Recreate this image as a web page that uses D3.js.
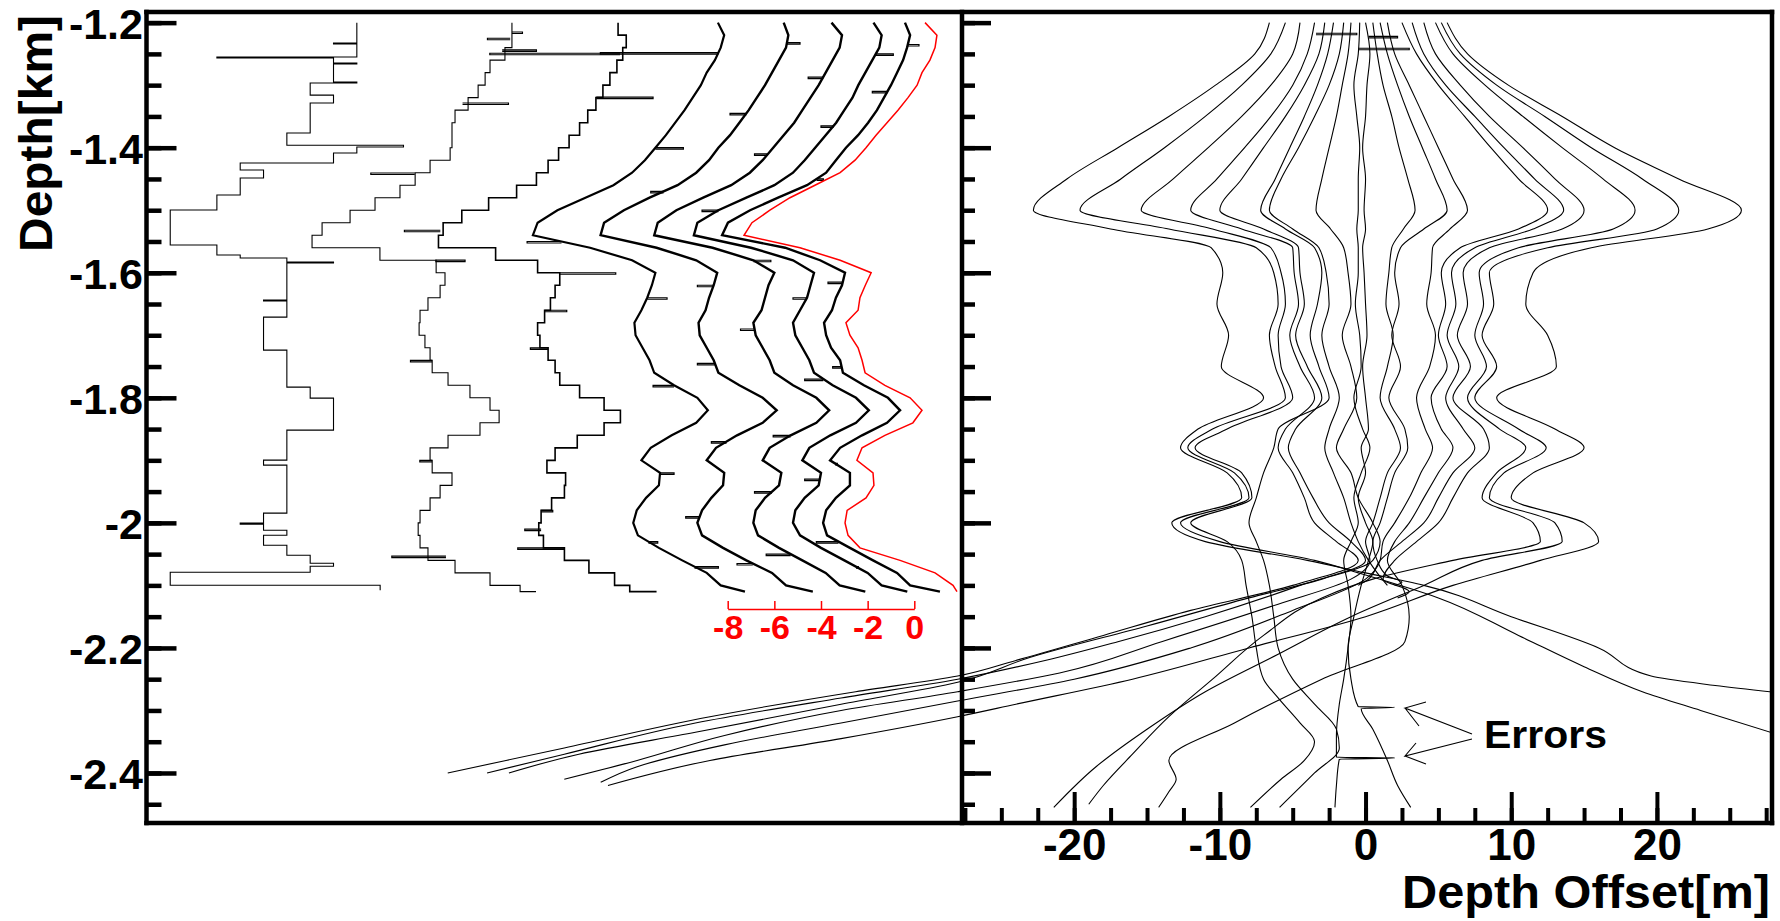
<!DOCTYPE html>
<html><head><meta charset="utf-8">
<script src="https://cdn.jsdelivr.net/npm/d3@7/dist/d3.min.js"></script>
<style>
html,body{margin:0;padding:0;background:#fff;}
svg{display:block;font-family:"Liberation Sans",Arial,Helvetica,sans-serif;font-weight:bold;}
</style></head><body>
<svg id="chart" width="1780" height="921"></svg>
<script>
// ---------------- DATA ----------------
const yMajor = [-1.2,-1.4,-1.6,-1.8,-2.0,-2.2,-2.4];
const yLabels = ["-1.2","-1.4","-1.6","-1.8","-2","-2.2","-2.4"];
const xMajor = [-20,-10,0,10,20];
const xLabels = ["-20","-10","0","10","20"];
const redTicks = [-8,-6,-4,-2,0];
const redLabels = ["-8","-6","-4","-2","0"];

// Left panel: profile grid depths (km)
const leftDepth = [-1.20,-1.22,-1.24,-1.26,-1.28,-1.30,-1.32,-1.34,-1.36,-1.38,-1.40,-1.42,-1.44,-1.46,-1.48,-1.50,-1.52,-1.54,-1.56,-1.58,-1.60,-1.62,-1.64,-1.66,-1.68,-1.70,-1.72,-1.74,-1.76,-1.78,-1.80,-1.82,-1.84,-1.86,-1.88,-1.90,-1.92,-1.94,-1.96,-1.98,-2.00,-2.02,-2.04,-2.06,-2.08,-2.10,-2.11];

// horizontal placement of each trace (red-axis units)
const traceShift = [-24.9,-18.0,-13.1,-9.0,-6.3,-3.95,-2.2,-0.9,0];

// trace 1 (coarse binned, step)
const c1Depth = [-1.200,-1.2325,-1.234,-1.255,-1.2565,-1.2645,-1.266,-1.295,-1.2965,-1.316,-1.3285,-1.3765,-1.396,-1.399,-1.4085,-1.4245,-1.4357,-1.4485,-1.4757,-1.4997,-1.5557,-1.5717,-1.5765,-1.5829,-1.5845,-1.6437,-1.6453,-1.6709,-1.7237,-1.7829,-1.8005,-1.8517,-1.8997,-1.9077,-1.9845,-2.0005,-2.0021,-2.0117,-2.0197,-2.0357,-2.0517,-2.0645,-2.0693,-2.0789,-2.0997,-2.1077];
const c1Val = [1,0,1,-5,0,1,0,1,-1,0,-1,-2,3,1,0,-4,-3,-4,-5,-7,-5,-4,-2,0,-2,-3,-2,-3,-2,-1,0,-2,-3,-2,-3,-4,-3,-2,-3,-2,-1,0,-1,-7,2,2];

const c2Val = [0.75,0.75,0.45,-0.19,-0.40,-0.70,-1.13,-1.69,-1.82,-1.82,-1.90,-2.76,-3.40,-4.05,-5.12,-6.19,-7.39,-7.82,-4.91,-2.50,-2.12,-2.33,-2.85,-3.19,-3.23,-2.98,-2.76,-2.67,-1.99,-1.05,-0.19,0.20,-0.62,-1.99,-2.76,-2.67,-1.82,-2.33,-2.76,-3.19,-3.27,-3.19,-2.85,-1.69,-0.19,1.10,1.78];
const c3Val = [0.40,0.75,0.60,0.35,0.05,-0.25,-0.55,-0.90,-1.25,-1.70,-2.15,-2.60,-3.10,-3.95,-5.15,-6.30,-7.10,-7.30,-4.85,-3.05,-2.10,-2.30,-2.50,-2.75,-3.05,-2.95,-2.60,-2.30,-2.10,-1.25,-0.20,0.50,-0.20,-1.35,-2.30,-2.65,-1.85,-1.90,-2.45,-2.90,-3.00,-2.80,-1.90,-0.85,0.25,0.90,2.05];
const c4Val = [0.58,0.85,0.70,0.45,0.10,-0.15,-0.50,-0.85,-1.25,-1.65,-2.10,-2.55,-3.10,-3.90,-5.10,-6.30,-7.15,-7.35,-4.90,-3.10,-2.10,-2.25,-2.45,-2.70,-3.00,-2.95,-2.65,-2.35,-2.15,-1.30,-0.30,0.15,-0.35,-1.40,-2.30,-2.70,-1.90,-1.95,-2.50,-2.90,-3.05,-2.85,-1.95,-0.95,0.10,0.70,1.74];
const c5Val = [0.70,0.90,0.80,0.50,0.20,-0.10,-0.45,-0.80,-1.20,-1.60,-2.10,-2.50,-3.05,-3.85,-5.05,-6.15,-7.00,-7.15,-4.75,-3.05,-2.15,-2.30,-2.50,-2.65,-2.95,-2.90,-2.60,-2.30,-2.10,-1.20,-0.20,0.40,-0.20,-1.30,-2.20,-2.60,-1.85,-1.90,-2.40,-2.80,-3.00,-2.80,-1.90,-0.90,0.20,0.80,1.95];
const c6Val = [0.40,0.85,0.75,0.45,0.15,-0.15,-0.50,-0.85,-1.20,-1.65,-2.10,-2.55,-3.10,-3.90,-5.10,-6.25,-7.05,-7.20,-4.70,-2.95,-2.05,-2.30,-2.45,-2.60,-2.95,-2.85,-2.55,-2.25,-2.05,-1.25,-0.25,0.30,-0.25,-1.35,-2.25,-2.55,-1.75,-1.85,-2.45,-2.85,-2.95,-2.75,-1.85,-0.85,0.15,0.75,1.85];
const c7Val = [0.45,0.80,0.70,0.40,0.10,-0.20,-0.45,-0.80,-1.15,-1.60,-2.05,-2.50,-3.00,-3.80,-5.00,-6.20,-7.10,-7.25,-4.80,-3.00,-2.10,-2.25,-2.40,-2.70,-3.00,-2.90,-2.60,-2.30,-2.10,-1.30,-0.30,0.25,-0.30,-1.40,-2.30,-2.60,-1.80,-1.90,-2.50,-2.90,-3.00,-2.70,-1.80,-0.80,0.20,0.80,1.90];
const c8Val = [0.50,0.72,0.59,0.42,0.16,-0.10,-0.40,-0.70,-1.08,-1.51,-2.03,-2.46,-2.88,-3.70,-4.94,-6.14,-7.09,-7.34,-4.64,-3.14,-2.07,-2.20,-2.46,-2.63,-2.97,-2.88,-2.67,-2.28,-2.16,-1.26,-0.23,0.29,-0.27,-1.34,-2.28,-2.71,-1.86,-1.86,-2.46,-2.88,-3.01,-2.84,-1.86,-0.87,0.16,0.72,2.0];
const redVal = [0.46,0.97,0.89,0.67,0.33,0.12,-0.27,-0.70,-1.17,-1.64,-2.07,-2.54,-3.18,-4.26,-5.33,-6.19,-6.96,-7.30,-4.90,-3.18,-1.85,-2.10,-2.33,-2.41,-2.93,-2.76,-2.41,-2.24,-2.11,-1.26,-0.18,0.33,-0.06,-1.26,-2.24,-2.46,-1.77,-1.73,-2.07,-2.88,-2.97,-2.84,-2.33,-0.61,0.89,1.66,1.83];

// isolated spikes on the traces: [depth, value]
const spikesC2 = [[-1.215,1.2],[-1.225,-0.3],[-1.2437,1.8],[-1.3285,0.6],[-1.4405,-5.3],[-1.5797,-1.26],[-1.74,-3.6],[-1.90,-3.2],[-2.0533,-4.4]];
const spikesC3 = [[-1.249,-5.1],[-1.319,1.9],[-1.532,-8.76],[-1.60,0.3],[-1.66,-1.8],[-1.72,-3.36],[-1.98,-2.4],[-2.01,-3.6],[-2.04,-3.9]];
const spikesC4 = [[-1.248,-4.46],[-1.40,-0.9],[-1.55,-7.6],[-1.64,-1.6],[-1.78,-2.2],[-1.92,-1.3],[-2.03,-2.0],[-2.07,0.6]];
const spikesC5 = [[-1.232,1.4],[-1.345,-1.6],[-1.47,-5.0],[-1.62,-3.0],[-1.745,-3.0],[-1.87,-2.4],[-1.99,-3.5],[-2.065,-1.3]];
const spikesC6 = [[-1.287,-0.6],[-1.41,-2.9],[-1.58,-2.2],[-1.69,-3.5],[-1.86,-2.1],[-1.95,-2.9],[-2.05,-2.4]];
const spikesC7 = [[-1.25,1.3],[-1.365,-1.8],[-1.50,-6.9],[-1.64,-3.0],[-1.77,-2.5],[-1.93,-2.5],[-2.07,-0.2]];
const spikesC8 = [[-1.235,1.1],[-1.31,-0.9],[-1.45,-3.0],[-1.615,-2.8],[-1.75,-2.6],[-1.905,-2.4],[-2.03,-3.3]];

// Right panel: depth offset curves (m); upper part on common depths, then individual tails [m, depth]
const rUpperDepth = [-1.20,-1.25,-1.30,-1.35,-1.40,-1.45,-1.50,-1.53,-1.56,-1.60,-1.65,-1.70,-1.75,-1.80,-1.85,-1.88,-1.92,-1.96,-2.00,-2.03,-2.06];
const rUpper = [
 [-6.6,-7.6,-10.3,-13.5,-17.0,-20.5,-22.8,-17.5,-10.6,-9.8,-10.2,-9.4,-9.9,-7.0,-11.5,-12.7,-9.5,-8.5,-13.3,-11.0,-4.0],
 [-5.5,-6.5,-8.5,-11.0,-13.8,-16.8,-19.6,-13.5,-7.5,-6.3,-6.0,-6.6,-6.2,-5.5,-10.5,-12.2,-9.0,-8.0,-12.7,-10.0,-3.5],
 [-4.5,-5.0,-6.5,-8.5,-10.8,-13.2,-15.4,-10.5,-6.5,-5.8,-5.5,-6.0,-5.8,-5.0,-9.5,-11.7,-8.5,-7.8,-12.0,-9.5,-8.5],
 [-3.5,-4.0,-5.0,-6.5,-8.3,-10.2,-12.0,-8.5,-5.0,-4.9,-4.6,-5.2,-4.5,-3.5,-5.5,-6.0,-5.0,-4.2,-3.5,-2.0,-0.5],
 [-2.8,-3.2,-4.2,-5.5,-7.0,-8.5,-10.0,-7.0,-4.6,-4.5,-4.2,-4.8,-4.0,-3.0,-4.8,-5.3,-4.5,-3.6,-2.5,-1.0,0.0],
 [-2.2,-2.6,-3.3,-4.2,-5.2,-6.2,-7.2,-5.5,-3.5,-3.0,-3.3,-3.8,-3.2,-2.5,-6.0,-6.3,-7.0,-7.5,-8.0,-7.5,-7.0],
 [-1.5,-1.8,-2.5,-3.5,-4.6,-5.8,-6.6,-5.0,-3.2,-2.7,-2.5,-3.0,-2.5,-1.8,-2.5,-2.8,-2.2,-1.5,-1.0,-0.5,0.2],
 [-1.0,-1.2,-1.6,-2.0,-2.5,-3.0,-3.4,-2.4,-1.5,-1.2,-1.0,-1.6,-1.0,-0.6,-1.5,-2.0,-1.0,-0.5,0.5,1.0,0.5],
 [-0.4,-0.5,-0.8,-0.6,-0.4,-0.5,-0.5,-0.6,-0.5,-0.5,-0.7,-0.4,-0.3,-0.8,-0.2,0.3,-0.3,-0.8,-0.5,-1.0,-1.5],
 [0.0,0.3,0.1,0.0,-0.2,0.0,-0.1,0.0,-0.2,-0.1,0.0,0.1,-0.2,0.0,0.2,-0.3,0.0,-0.5,0.0,0.5,0.2],
 [0.5,0.8,1.2,1.8,2.3,2.9,3.4,2.6,1.8,1.6,1.4,1.9,1.5,1.0,2.0,2.4,1.5,1.0,0.5,0.0,0.3],
 [1.0,1.5,2.2,3.0,3.9,4.8,5.6,4.0,2.4,2.0,2.3,1.8,2.4,1.6,2.7,2.9,2.0,1.5,1.0,0.5,0.8],
 [1.5,2.0,3.0,4.0,5.0,6.0,7.0,5.8,4.6,4.5,4.2,4.8,4.4,3.5,4.1,4.6,3.8,3.0,2.0,1.2,1.0],
 [2.5,3.5,5.0,6.8,8.6,10.5,12.5,10.5,6.5,5.2,5.5,5.0,5.6,4.5,5.2,6.0,5.0,4.0,3.0,2.0,1.5],
 [3.2,4.0,5.5,7.5,9.5,11.6,13.6,11.5,7.5,5.9,6.2,5.6,6.4,5.5,6.7,7.5,6.0,5.0,4.0,2.5,1.0],
 [4.0,4.8,6.5,8.5,10.8,13.0,15.0,13.5,8.5,6.7,7.0,6.3,7.2,6.0,8.1,8.5,7.0,6.0,5.0,3.5,2.0],
 [4.8,6.0,8.2,10.8,13.5,16.3,18.5,17.0,10.5,7.8,8.1,7.5,8.3,7.0,9.2,11.0,9.0,8.0,11.5,12.0,6.0],
 [5.2,6.5,9.0,12.3,15.5,19.0,21.5,20.0,12.5,8.5,8.8,8.0,9.0,7.5,10.5,12.4,9.5,8.5,13.0,13.5,8.0],
 [5.6,7.0,9.8,13.5,17.1,21.5,25.8,23.5,15.5,11.5,11.0,12.5,13.1,9.0,13.0,15.0,11.5,10.0,15.0,16.0,12.0]
];
const rTail = [
 [[0,-2.08],[4,-2.10],[10,-2.15],[16,-2.20],[19.6,-2.245],[24,-2.26],[28.5,-2.272]],
 [[-0.5,-2.08],[5,-2.12],[10.5,-2.18],[15,-2.23],[19,-2.27],[23,-2.30],[28.5,-2.34]],
 [[-8.2,-2.10],[-7.8,-2.15],[-7.5,-2.20],[-7.0,-2.25],[-6.0,-2.28],[-4.5,-2.32],[-3.5,-2.35],[-4.2,-2.38],[-5.8,-2.41],[-7.9,-2.455]],
 [[-5,-2.10],[-12,-2.14],[-18,-2.18],[-24,-2.22],[-28,-2.245],[-35,-2.27],[-45,-2.31],[-55,-2.36],[-63,-2.40]],
 [[-4.5,-2.10],[-11,-2.15],[-17,-2.19],[-22,-2.22],[-28,-2.25],[-36,-2.28],[-46,-2.32],[-55,-2.37],[-60.3,-2.40]],
 [[-6.6,-2.10],[-6.3,-2.15],[-6.0,-2.20],[-5.0,-2.25],[-3.5,-2.29],[-2.0,-2.33],[-1.8,-2.36],[-3.5,-2.40],[-5.9,-2.455]],
 [[0.8,-2.08],[1.5,-2.10]],
 [[-3,-2.09],[-8,-2.12],[-15,-2.165],[-23,-2.215],[-28,-2.255],[-36,-2.29],[-46,-2.335],[-54,-2.37],[-58.8,-2.40]],
 [[-1.2,-2.10],[-1.0,-2.15],[-1.2,-2.20],[-1.5,-2.25],[-1.8,-2.29],[-2.0,-2.34],[-2.0,-2.375],[2.0,-2.376],[-1.8,-2.378],[-2.0,-2.42],[-2.1,-2.455]],
 [[-0.3,-2.10],[-0.8,-2.15],[-1.2,-2.20],[-1.0,-2.25],[-0.5,-2.294],[2.0,-2.295],[-0.3,-2.297],[0.5,-2.33],[1.5,-2.38],[2.2,-2.42],[3.1,-2.455]],
 [[-1,-2.09],[-6,-2.13],[-14,-2.19],[-21,-2.24],[-28,-2.27],[-36,-2.30],[-44,-2.34],[-50,-2.38],[-55,-2.41]],
 [[1.5,-2.085],[2.5,-2.095],[2.0,-2.10]],
 [[0,-2.09],[-5,-2.14],[-12,-2.20],[-20,-2.25],[-28,-2.285],[-36,-2.32],[-44,-2.355],[-50,-2.39],[-52.5,-2.415]],
 [[2.5,-2.10],[3.0,-2.15],[2.7,-2.19],[-3.0,-2.25],[-9.0,-2.32],[-13.5,-2.38],[-13.0,-2.41],[-13.5,-2.43],[-14.2,-2.455]],
 [[0.2,-2.09],[-0.5,-2.10]],
 [[1.2,-2.09],[3.0,-2.11],[2.2,-2.12]],
 [[0.5,-2.09],[-3,-2.12],[-7,-2.18],[-10.5,-2.25],[-13.5,-2.31],[-16,-2.37],[-18,-2.42],[-19,-2.45]],
 [[4,-2.10],[-1,-2.15],[-6,-2.21],[-11,-2.27],[-15,-2.33],[-18.5,-2.39],[-21.4,-2.455]],
 [[6,-2.10],[0,-2.15],[-8,-2.20],[-16,-2.25],[-24,-2.29],[-28,-2.31],[-36,-2.345],[-45,-2.38],[-52,-2.42]]
];
// short horizontal glitches near the top of the right panel: [depth, from m, to m]
const rTopGlitch = [[-1.217,-3.4,-0.6],[-1.241,-0.5,3.0],[-1.222,0.2,2.2]];

// ---------------- DRAWING ----------------
const svg = d3.select("#chart");
const FONT = '"Liberation Sans", Arial, Helvetica, sans-serif';
const y = d3.scaleLinear().domain([-1.183, -2.48]).range([12, 823]);
const xL = d3.scaleLinear().domain([-8, 0]).range([727.7, 914.3]);
const xR = d3.scaleLinear().domain([-27.7, 27.9]).range([962, 1772]);

svg.append("rect").attr("width",1780).attr("height",921).attr("fill","#fff");
svg.append("defs").append("clipPath").attr("id","plotClip")
  .append("rect").attr("x",148).attr("y",12).attr("width",1624).attr("height",811);
const gPlot = svg.append("g").attr("clip-path","url(#plotClip)");

const traces = [
  {vals:c2Val, curve:d3.curveStepBefore, w:1.1, color:"#000", sp:spikesC2},
  {vals:c3Val, curve:d3.curveStepBefore, w:1.6, color:"#000", sp:spikesC3},
  {vals:c4Val, curve:d3.curveLinear, w:2.2, color:"#000", sp:spikesC4},
  {vals:c5Val, curve:d3.curveLinear, w:2.4, color:"#000", sp:spikesC5},
  {vals:c6Val, curve:d3.curveLinear, w:2.4, color:"#000", sp:spikesC6},
  {vals:c7Val, curve:d3.curveLinear, w:2.4, color:"#000", sp:spikesC7},
  {vals:c8Val, curve:d3.curveLinear, w:2.4, color:"#000", sp:spikesC8},
  {vals:redVal, curve:d3.curveLinear, w:1.5, color:"#ff0000", sp:[]}
];
{
  const s = traceShift[0];
  const pts = c1Depth.map((d,i)=>[c1Val[i], d]);
  gPlot.append("path").attr("d", d3.line().curve(d3.curveStepBefore).x(p=>xL(s+p[0])).y(p=>y(p[1]))(pts))
    .attr("fill","none").attr("stroke","#000").attr("stroke-width",1.1);
}
function valueAt(vals, d){
  for(let i=0;i<leftDepth.length-1;i++){
    if(d<=leftDepth[i] && d>=leftDepth[i+1]){
      const f=(leftDepth[i]-d)/(leftDepth[i]-leftDepth[i+1]);
      return vals[i]+(vals[i+1]-vals[i])*f;
    }
  }
  return vals[0];
}
traces.forEach((t,k)=>{
  const s = traceShift[k+1];
  const pts = leftDepth.map((d,i)=>[t.vals[i], d]);
  gPlot.append("path").attr("d", d3.line().curve(t.curve).x(p=>xL(s+p[0])).y(p=>y(p[1]))(pts))
    .attr("fill","none").attr("stroke",t.color).attr("stroke-width",t.w).attr("stroke-linejoin","miter");
  t.sp.forEach(([d,v])=>{
    const v0 = valueAt(t.vals,d);
    gPlot.append("path").attr("d",`M${xL(s+v0)},${y(d)}H${xL(s+v)}V${y(d)+1.5}H${xL(s+v0)}`)
      .attr("fill","none").attr("stroke",t.color).attr("stroke-width",1.2);
  });
});

// right curves
const rLine = d3.line().curve(d3.curveMonotoneY).x(p=>xR(p[0])).y(p=>y(p[1]));
rUpper.forEach((vals,k)=>{
  const pts = rUpperDepth.map((d,i)=>[vals[i], d]).concat(rTail[k]);
  gPlot.append("path").attr("d", rLine(pts)).attr("fill","none").attr("stroke","#000").attr("stroke-width",1.1);
});
rTopGlitch.forEach(([d,a,b])=>{
  gPlot.append("path").attr("d",`M${xR(a)},${y(d)}H${xR(b)}V${y(d)+1.5}H${xR(a)}`)
    .attr("fill","none").attr("stroke","#000").attr("stroke-width",1.1);
});

// frame
const frame = svg.append("g").attr("stroke","#000").attr("stroke-width",4.5).attr("stroke-linecap","square");
frame.append("line").attr("x1",146.5).attr("x2",1772).attr("y1",12).attr("y2",12);
frame.append("line").attr("x1",146.5).attr("x2",1772).attr("y1",823).attr("y2",823);
frame.append("line").attr("x1",146.5).attr("x2",146.5).attr("y1",12).attr("y2",823);
frame.append("line").attr("x1",962).attr("x2",962).attr("y1",12).attr("y2",823);
frame.append("line").attr("x1",1772).attr("x2",1772).attr("y1",12).attr("y2",823);

const yMinor = d3.range(0,26).map(i=>-1.2-0.05*i);
const xMinor = d3.range(-11,12).map(i=>i*2.5);

function styleTicks(g, w){
  g.select(".domain").remove();
  g.selectAll(".tick line").attr("stroke","#000").attr("stroke-width",w);
}
svg.append("g").attr("transform","translate(146.5,0)")
  .call(d3.axisRight(y).tickValues(yMinor).tickSize(15).tickFormat(""))
  .call(g=>styleTicks(g,4.5));
svg.append("g").attr("transform","translate(146.5,0)")
  .call(d3.axisRight(y).tickValues(yMajor).tickSize(30).tickFormat(""))
  .call(g=>styleTicks(g,4.5));
svg.append("g").attr("transform","translate(143,0)")
  .call(d3.axisLeft(y).tickValues(yMajor).tickSize(0).tickPadding(0).tickFormat((d,i)=>yLabels[i]))
  .call(g=>{ g.select(".domain").remove();
    g.selectAll("text").attr("font-size",43).attr("font-family",FONT).attr("font-weight","bold").attr("fill","#000").attr("dy","0.36em"); });
svg.append("g").attr("transform","translate(962,0)")
  .call(d3.axisRight(y).tickValues(yMinor).tickSize(13).tickFormat(""))
  .call(g=>styleTicks(g,4.5));
svg.append("g").attr("transform","translate(962,0)")
  .call(d3.axisRight(y).tickValues(yMajor).tickSize(29).tickFormat(""))
  .call(g=>styleTicks(g,4.5));
svg.append("g").attr("transform","translate(0,823)")
  .call(d3.axisTop(xR).tickValues(xMinor).tickSize(15).tickFormat(""))
  .call(g=>styleTicks(g,4));
svg.append("g").attr("transform","translate(0,823)")
  .call(d3.axisTop(xR).tickValues(xMajor).tickSize(31).tickFormat(""))
  .call(g=>styleTicks(g,4));
svg.append("g").attr("transform","translate(0,823)")
  .call(d3.axisBottom(xR).tickValues(xMajor).tickSize(0).tickPadding(37).tickFormat((d,i)=>xLabels[i]))
  .call(g=>{ g.select(".domain").remove();
    g.selectAll("text").attr("font-size",44).attr("font-family",FONT).attr("font-weight","bold").attr("fill","#000").attr("dy","0"); });

// red inset axis
svg.append("g").attr("transform","translate(0,609)")
  .call(d3.axisBottom(xL).tickValues(redTicks).tickSize(-8).tickSizeOuter(0).tickPadding(6).tickFormat((d,i)=>redLabels[i]))
  .call(g=>{
    g.select(".domain").attr("stroke","#ff0000").attr("stroke-width",1.5);
    g.selectAll(".tick line").attr("stroke","#ff0000").attr("stroke-width",1.5);
    g.selectAll("text").attr("font-size",34).attr("font-family",FONT).attr("font-weight","bold").attr("fill","#ff0000").attr("dy","0.71em");
  });

// titles
svg.append("text").attr("transform","translate(52,15) rotate(-90)").attr("text-anchor","end")
  .attr("font-size",46).attr("font-family",FONT).attr("font-weight","bold")
  .attr("textLength",237).attr("lengthAdjust","spacingAndGlyphs").text("Depth[km]");
svg.append("text").attr("x",1770).attr("y",908).attr("text-anchor","end")
  .attr("font-size",46).attr("font-family",FONT).attr("font-weight","bold")
  .attr("textLength",368).attr("lengthAdjust","spacingAndGlyphs").text("Depth Offset[m]");

svg.append("text").attr("x",1484).attr("y",748)
  .attr("font-size",38).attr("font-family",FONT).attr("font-weight","bold")
  .attr("textLength",123).attr("lengthAdjust","spacingAndGlyphs").text("Errors");
const ann = svg.append("g").attr("fill","none").attr("stroke","#000").attr("stroke-width",1.1);
ann.append("path").attr("d","M1472,734L1405,708L1426,702M1405,708L1419,726");
ann.append("path").attr("d","M1472,739L1405,756L1416,743M1405,756L1426,764");
</script></body></html>
